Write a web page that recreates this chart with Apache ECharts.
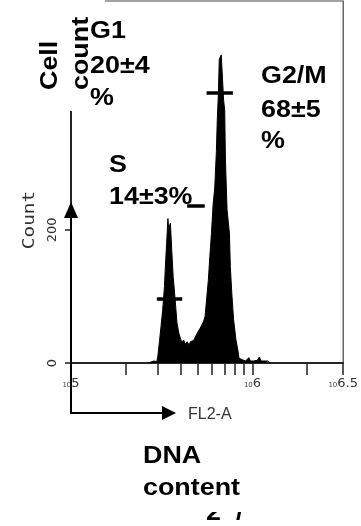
<!DOCTYPE html>
<html>
<head>
<meta charset="utf-8">
<script src="https://cdn.jsdelivr.net/npm/echarts@6/dist/echarts.min.js"></script>
<style>
  html, body { margin: 0; padding: 0; background: #fff; }
  #chart { width: 361px; height: 526px; }
</style>
</head>
<body>
<div id="chart"></div>
<script>
// FL2-A channel (log10 of fluorescence) and cell count per channel
const fl2Log = [5.425,5.435,5.457,5.473,5.478,5.488,5.496,5.505,5.515,5.520,5.527,5.534,5.539,5.541,5.548,5.555,5.563,5.574,5.584,5.595,5.609,5.622,5.629,5.640,5.651,5.658,5.676,5.694,5.711,5.730,5.739,5.747,5.757,5.765,5.774,5.783,5.792,5.801,5.806,5.812,5.817,5.828,5.836,5.841,5.847,5.851,5.855,5.860,5.873,5.878,5.886,5.896,5.909,5.921,5.926,5.944,5.962,5.980,5.989,6.005,6.027,6.038,6.048,6.070,6.086,6.097];
const cellCounts = [0,2,3,2,9,34,55,79,115,145,180,217,198,205,210,170,130,95,60,44,32,34,28,32,27,32,34,44,52,62,70,95,125,160,195,238,263,318,365,403,456,463,460,395,380,305,272,230,195,145,105,65,35,17,7,5,3,8,3,3,4,9,3,3,3,0];

// gate markers (G1, S, G2/M)
const markerNames = ['G1', 'S', 'G2/M'];
const markerFrom = [5.473, 5.640, 5.747];
const markerTo = [5.613, 5.737, 5.892];
const markerLevel = [96, 236, 406];

// axis ticks / labels
const xTickMantissas = [1,2,3,4,5,6,7,8,9,10,20,31.6227766];
const xLabelExponents = [5, 6, 6.5];
const yTickValues = [0, 200, 400];

const xTickPositions = xTickMantissas.map(m => 5 + Math.log10(m));

const chart = echarts.init(document.getElementById('chart'), null, { renderer: 'canvas' });

const boldFont = { fontSize: 24, fontWeight: 'bold', fontFamily: '"Liberation Sans", Arial, sans-serif' };
function label(text, x, y, extra) {
  return Object.assign({
    type: 'text', x: x, y: y, z: 60, scaleX: 1.12,
    style: Object.assign({ text: text, fill: '#000', align: 'left', verticalAlign: 'middle',
      textAlign: 'left', textVerticalAlign: 'middle' }, boldFont)
  }, extra || {});
}

const option = {
  animation: false,
  grid: { left: 71, right: 12, top: 1, bottom: 163, show: true, borderColor: '#444', borderWidth: 1.2, backgroundColor: 'transparent' },
  xAxis: {
    type: 'value', min: 5, max: 6.5,
    axisLine: { onZero: false, lineStyle: { color: '#000', width: 1.5 } },
    axisTick: { customValues: xTickPositions, length: 12, lineStyle: { color: '#222', width: 1.5 } },
    axisLabel: {
      customValues: xLabelExponents, margin: 14, color: '#333',
      formatter: v => '{b|10}{e|' + v + '}',
      rich: {
        b: { fontSize: 7, fontFamily: '"DejaVu Sans", sans-serif', color: '#444', verticalAlign: 'bottom', padding: [0, 0, 1, 0] },
        e: { fontSize: 13, fontFamily: '"DejaVu Sans", sans-serif', color: '#333', verticalAlign: 'bottom' }
      }
    },
    splitLine: { show: false }
  },
  yAxis: {
    type: 'value', min: 0, max: 544,
    axisLine: { lineStyle: { color: '#000', width: 1.5 } },
    axisTick: { customValues: yTickValues, length: 6, lineStyle: { color: '#222', width: 1.5 } },
    axisLabel: { customValues: yTickValues, rotate: 90, margin: 12, fontSize: 13, fontFamily: '"DejaVu Sans", sans-serif', color: '#333' },
    splitLine: { show: false }
  },
  series: [{
    type: 'line',
    data: fl2Log.map((x, i) => [x, cellCounts[i]]),
    showSymbol: false, symbol: 'none',
    lineStyle: { color: '#000', width: 1 },
    areaStyle: { color: '#000', opacity: 1 },
    z: 3,
    markLine: {
      silent: true, animation: false, symbol: ['none', 'none'],
      label: { show: false },
      lineStyle: { color: '#000', width: 3.5, type: 'solid' },
      emphasis: { disabled: true },
      data: markerNames.map((n, i) => [
        { name: n, coord: [markerFrom[i], markerLevel[i]] },
        { coord: [markerTo[i], markerLevel[i]] }
      ])
    }
  }],
  graphic: [
    // white label box covering the corner of the plot
    { type: 'rect', z: 50, shape: { x: 34, y: 0, width: 71, height: 111 }, style: { fill: '#fff' } },
    // box hiding the upper part of the panel number
    { type: 'rect', z: 49, shape: { x: 190, y: 495, width: 70, height: 17 }, style: { fill: '#fff' } },
    label('2', 206, 525, { z: 48, style: Object.assign({ text: '2', fill: '#000', align: 'left', verticalAlign: 'bottom', textAlign: 'left', textVerticalAlign: 'bottom' }, boldFont) }),
    label('/', 236, 525, { z: 48, style: Object.assign({ text: '/', fill: '#000', align: 'left', verticalAlign: 'bottom', textAlign: 'left', textVerticalAlign: 'bottom' }, boldFont) }),
    // Cell count (rotated)
    label('Cell', 50, 90, { rotation: Math.PI / 2 }),
    label('count', 81, 90, { rotation: Math.PI / 2 }),
    // phase labels
    label('G1', 90, 31.5),
    label('20±4', 90, 66.5),
    label('%', 90, 98.5),
    label('G2/M', 261, 76.5),
    label('68±5', 261, 110),
    label('%', 261, 141),
    label('S', 109, 165.5),
    label('14±3%', 109, 197.5),
    label('DNA', 143, 456.5),
    label('content', 143, 488),
    // axis titles of the cytometer plot
    { type: 'text', z: 40, x: 30, y: 220, rotation: Math.PI / 2, scaleX: 1.3,
      style: { text: 'Count', fill: '#333', fontSize: 15, fontFamily: '"DejaVu Sans Mono", monospace',
        align: 'center', verticalAlign: 'middle', textAlign: 'center', textVerticalAlign: 'middle' } },
    { type: 'text', z: 40, x: 188, y: 415,
      style: { text: 'FL2-A', fill: '#333', fontSize: 16, fontFamily: '"Liberation Sans", Arial, sans-serif',
        align: 'left', verticalAlign: 'middle', textAlign: 'left', textVerticalAlign: 'middle' } },
    // arrows
    { type: 'polyline', z: 40, shape: { points: [[71, 217], [71, 413], [164, 413]] }, style: { stroke: '#000', lineWidth: 2, fill: null } },
    { type: 'polygon', z: 40, shape: { points: [[64, 218], [78, 218], [71, 202]] }, style: { fill: '#000' } },
    { type: 'polygon', z: 40, shape: { points: [[162, 406], [162, 420], [176, 413]] }, style: { fill: '#000' } }
  ]
};
chart.setOption(option);
</script>
</body>
</html>
